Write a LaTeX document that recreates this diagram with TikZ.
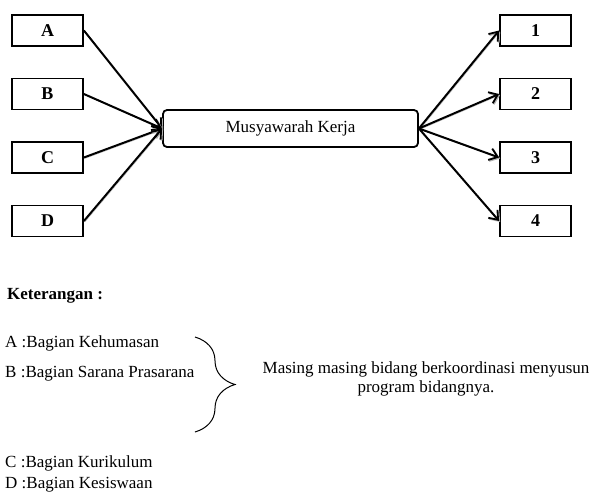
\documentclass[tikz,border=0pt]{standalone}
\usepackage{fontspec}
\setmainfont{Liberation Serif}
\usetikzlibrary{arrows.meta}
\usetikzlibrary{calc}
\usetikzlibrary{decorations.pathreplacing}
\usetikzlibrary{positioning}
\tikzset{
  unit/.style={draw, line width=1.8pt, minimum width=71pt, minimum height=31pt,
    inner sep=0, font=\fontsize{18}{20}\selectfont\bfseries},
  meeting/.style={draw, line width=1.8pt, rounded corners=4pt,
    minimum width=255pt, minimum height=37pt, font=\fontsize{17}{20}\selectfont},
  arrow/.style={-{Straight Barb[length=8pt,width=12pt,line width=1.8pt]}, line width=2pt,
    preaction={draw=black!30, transform canvas={shift={(1pt,-1pt)}}}},
  legend/.style={anchor=west, inner sep=0, font=\fontsize{17}{20}\selectfont}
}

\begin{document}
\begin{tikzpicture}[x=1pt,y=-1pt]
      \useasboundingbox (0,0) rectangle (593,499);
      % sources
      \node[unit] (A) at (47.5,30.5) {A};
      \node[unit] (B) at (47.5,94) {B};
      \node[unit] (C) at (47.5,157.5) {C};
      \node[unit] (D) at (47.5,221) {D};
      \node[meeting] (kerja) at (290.5,128.5) {Musyawarah Kerja};
      % results
      \node[unit] (r1) at (535.5,30.5) {1};
      \node[unit] (r2) at (535.5,94) {2};
      \node[unit] (r3) at (535.5,157.5) {3};
      \node[unit] (r4) at (535.5,221) {4};
      \foreach \s in {A,B,C,D}
        \draw[arrow] (\s.east) -- (kerja.west);
      \foreach \t in {r1,r2,r3,r4}
        \draw[arrow] (kerja.east) -- (\t.west);
      % keterangan
      \node[legend, font=\fontsize{17}{20}\selectfont\bfseries] (ket) at (7,296) {Keterangan :};
      \node[legend] (la) at (5,343) {A :Bagian Kehumasan};
      \node[legend] (lb) at (5,374) {B :Bagian Sarana Prasarana};
      \node[legend] (lc) at (5,463) {C :Bagian Kurikulum};
      \node[legend] (ld) at (5,485) {D :Bagian Kesiswaan};
      \coordinate (btop) at (195,337);
      \coordinate (bbot) at (195,432);
      \draw[line width=1pt, decorate, decoration={brace, amplitude=40pt}] (btop) -- (bbot);
      \node[align=center, inner sep=0, font=\fontsize{17}{19}\selectfont] (note) at (426,379)
        {Masing masing bidang berkoordinasi menyusun\\program bidangnya.};
    \end{tikzpicture}
\end{document}
